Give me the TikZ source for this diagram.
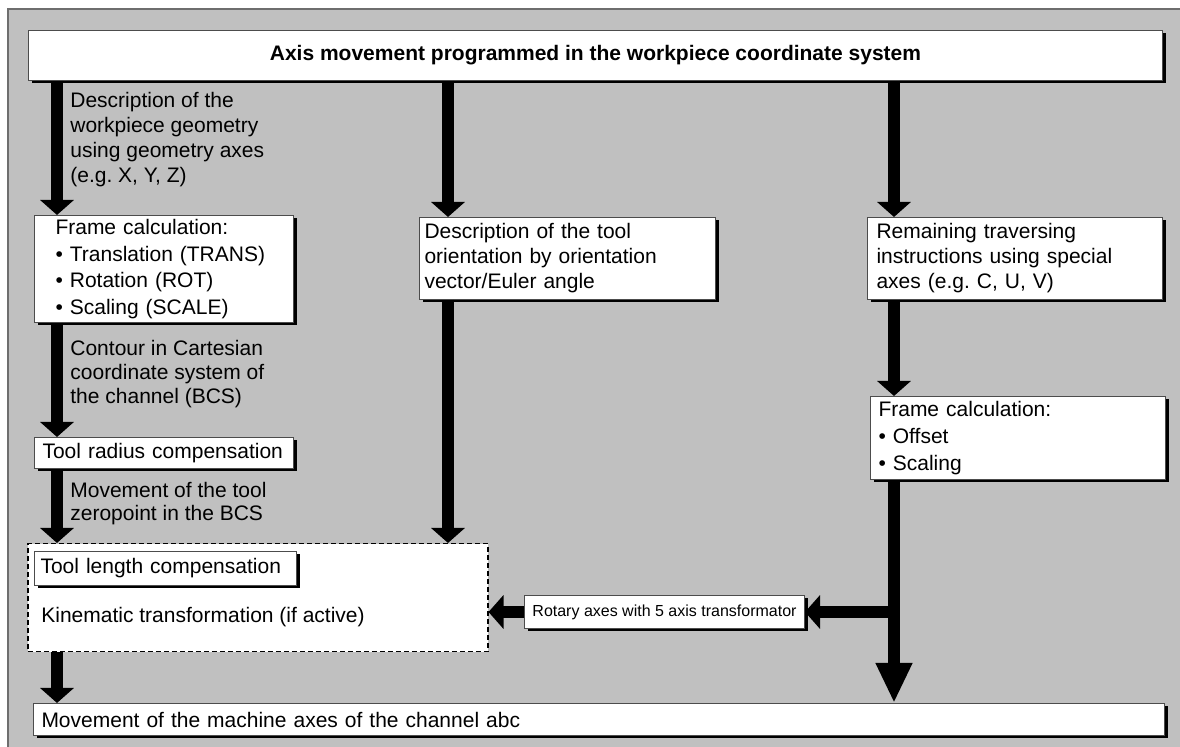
\documentclass[tikz,border=0pt]{standalone}
\usepackage{fontspec}
\setmainfont{Liberation Sans}
\usetikzlibrary{arrows.meta,shadows}
\frenchspacing

\definecolor{panel}{HTML}{C0C0C0}
\definecolor{panelline}{HTML}{6E6E6E}

\begin{document}
\begin{tikzpicture}[x=0.5pt,y=-0.5pt,
  font=\fontsize{10.5}{12.5}\selectfont,
  box/.style={rectangle,draw=black!70,fill=white,line width=0.5pt,anchor=north west,
    align=left,inner ysep=0pt,
    drop shadow={shadow xshift=1.5pt,shadow yshift=-1.5pt,fill=black,opacity=1}},
  lbl/.style={anchor=north west,align=left,inner sep=0pt},
  fat/.style={line width=5.75pt,-{Triangle[width=16.5pt,length=7.5pt]}}]
\useasboundingbox (0,0) rectangle (1180,747);
\fill[panel] (8,9) rectangle (1180,747);
\draw[panelline,line width=1pt] (8,747) -- (8,9) -- (1180,9);

% boxes
\node[box,minimum width=567pt,minimum height=25pt,align=center,font=\fontsize{10.5}{12.5}\selectfont\bfseries]
  (title) at (28,30) {Axis movement programmed in the workpiece coordinate system};
\node[box,inner xsep=10.5pt,text width=108.5pt,minimum height=53.5pt,font=\fontsize{10.5}{13.25}\selectfont]
  (framel) at (34,215) {Frame calculation:\\\textbullet\ Translation (TRANS)\\\textbullet\ Rotation (ROT)\\\textbullet\ Scaling (SCALE)};
\node[box,inner xsep=2.5pt,text width=143pt,minimum height=41pt]
  (orient) at (419,217) {Description of the tool\\orientation by orientation\\vector/Euler angle};
\node[box,inner xsep=4.5pt,text width=138.5pt,minimum height=41pt]
  (remain) at (867,217) {Remaining traversing\\instructions using special\\axes (e.g. C, U, V)};
\node[box,inner xsep=4pt,text width=139.5pt,minimum height=41.5pt,font=\fontsize{10.5}{13.5}\selectfont]
  (framer) at (870,396) {Frame calculation:\\\textbullet\ Offset\\\textbullet\ Scaling};
\node[box,inner xsep=4pt,text width=121.5pt,minimum height=15.5pt]
  (radius) at (34,437) {\mbox{Tool radius compensation}};
\node[rectangle,draw,dash pattern=on 2.5pt off 1.5pt,line width=0.75pt,fill=white,anchor=north west,
  minimum width=230pt,minimum height=54pt] (kinbox) at (27,543) {};
\node[box,inner xsep=3pt,text width=125pt,minimum height=17pt]
  (length) at (34,551) {\mbox{Tool length compensation}};
\node[lbl] (kintxt) at (41,607) {Kinematic transformation (if active)};
\node[box,minimum width=140pt,minimum height=16.5pt,align=center,font=\fontsize{8}{9.6}\selectfont]
  (rotary) at (524,595) {Rotary axes with 5 axis transformator};
\node[box,inner xsep=4pt,text width=557.5pt,minimum height=16pt]
  (machine) at (33,703) {Movement of the machine axes of the channel abc};

% labels on the arrows
\node[lbl] (geomtxt) at (70,92) {Description of the\\workpiece geometry\\using geometry axes\\(e.g. X, Y, Z)};
\node[lbl,font=\fontsize{10.5}{12}\selectfont] (bcstxt) at (70,340) {Contour in Cartesian\\coordinate system of\\the channel (BCS)};
\node[lbl,font=\fontsize{10.5}{11.5}\selectfont] (zerotxt) at (70,482) {Movement of the tool\\zeropoint in the BCS};

% arrows
\coordinate (colL) at (57,0);
\coordinate (colM) at (448,0);
\coordinate (colR) at (894,0);
\draw[fat] (colL |- title.south) -- (colL |- framel.north);
\draw[fat] (colL |- framel.south) -- (colL |- radius.north);
\draw[fat] (colL |- radius.south) -- (colL |- kinbox.north);
\draw[fat] (colL |- kinbox.south) -- (colL |- machine.north);
\draw[fat] (colM |- title.south) -- (colM |- orient.north);
\draw[fat] (colM |- orient.south) -- (colM |- kinbox.north);
\draw[fat] (colR |- title.south) -- (colR |- remain.north);
\draw[fat] (colR |- remain.south) -- (colR |- framer.north);
\draw[fat,-{Triangle[width=17pt,length=20pt]}] (colR |- framer.south) -- (colR |- machine.north);
\coordinate (split) at (colR |- rotary.east);
\draw[fat] (split) -- (rotary.east);
\draw[fat] (rotary.west) -- (kinbox.east |- rotary.west);
\end{tikzpicture}
\end{document}
